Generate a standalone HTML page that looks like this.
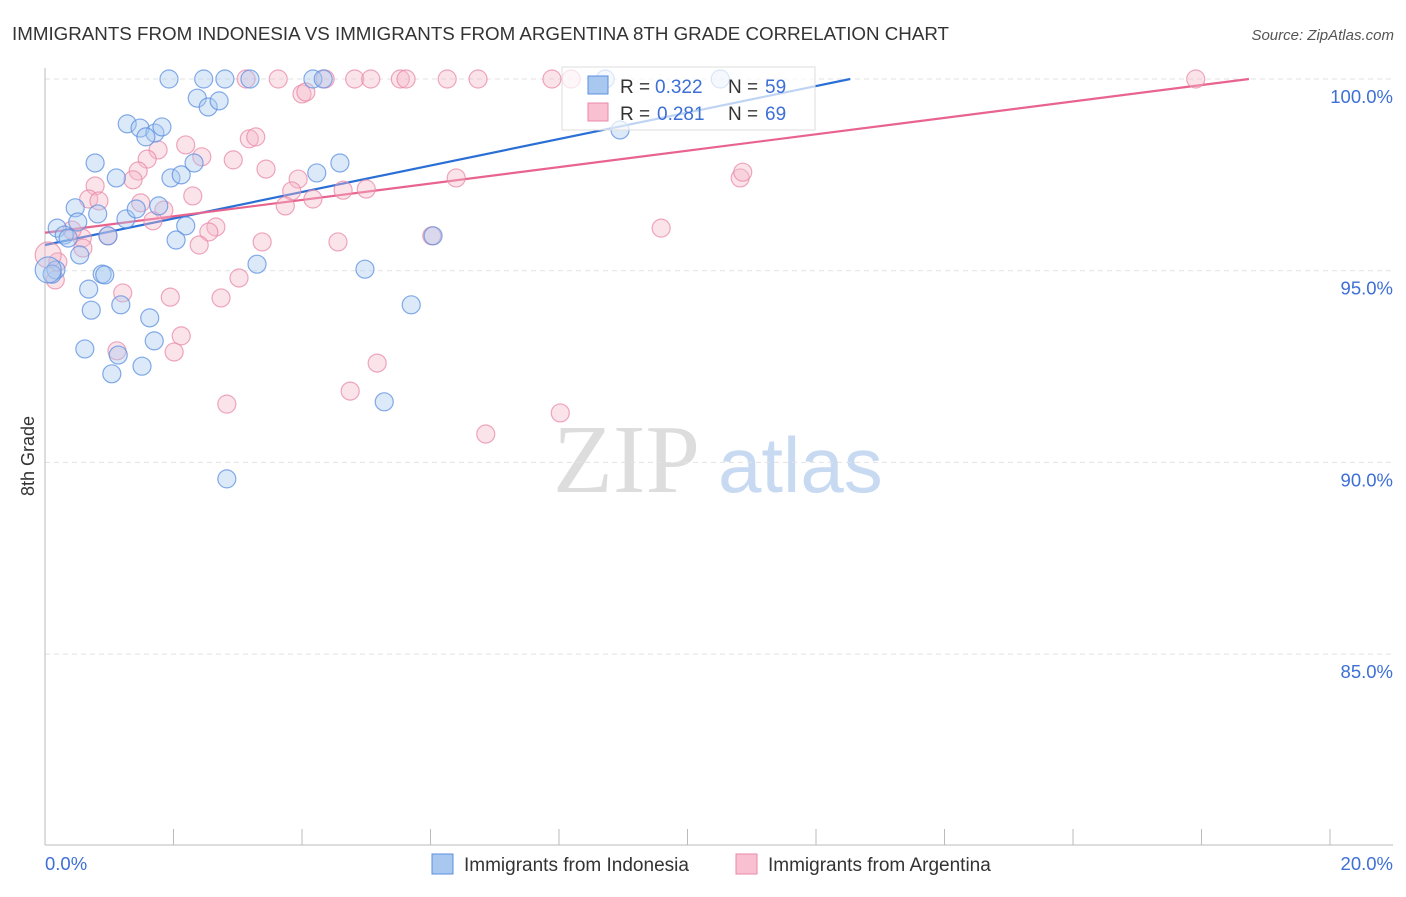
<!DOCTYPE html>
<html><head><meta charset="utf-8"><style>
body{margin:0;background:#fff;font-family:"Liberation Sans",sans-serif}
svg text{font-family:"Liberation Sans",sans-serif}
</style></head><body>
<svg id="chart" width="1406" height="892">
<text x="12" y="40" font-size="18" fill="#333" textLength="937" lengthAdjust="spacingAndGlyphs">IMMIGRANTS FROM INDONESIA VS IMMIGRANTS FROM ARGENTINA 8TH GRADE CORRELATION CHART</text>
<text x="1394" y="40" font-size="15" fill="#555" font-style="italic" text-anchor="end">Source: ZipAtlas.com</text>
<g>
<text x="553" y="492" font-size="98" fill="#ddd" style="font-family:'Liberation Serif',serif">ZIP</text>
<text x="718" y="492" font-size="78" fill="#c8daf2">atlas</text>
</g>
<g id="grid"></g>
<g id="axes"></g>
<g id="trend"></g>
<g id="points"></g>
<text transform="translate(34,456) rotate(-90)" font-size="18" fill="#333" text-anchor="middle">8th Grade</text>
<g>
<rect x="562" y="67" width="253" height="63" fill="#fff" fill-opacity="0.7" stroke="#ddd"/>
<rect x="588" y="76" width="20" height="18" fill="#a8c8f0" stroke="#5b8fe0"/>
<text x="620" y="93" font-size="19" fill="#333">R =</text>
<text x="655" y="93" font-size="19" fill="#3d6fd6">0.322</text>
<text x="728" y="93" font-size="19" fill="#333">N =</text>
<text x="765" y="93" font-size="19" fill="#3d6fd6">59</text>
<rect x="588" y="103" width="20" height="18" fill="#f8c0d0" stroke="#e88aa8"/>
<text x="620" y="120" font-size="19" fill="#333">R =</text>
<text x="657" y="120" font-size="19" fill="#3d6fd6">0.281</text>
<text x="728" y="120" font-size="19" fill="#333">N =</text>
<text x="765" y="120" font-size="19" fill="#3d6fd6">69</text>
</g>
<g>
<rect x="432" y="854" width="21" height="20" fill="#a8c8f0" stroke="#5b8fe0"/>
<text x="464" y="871" font-size="19" fill="#333">Immigrants from Indonesia</text>
<rect x="736" y="854" width="21" height="20" fill="#f8c0d0" stroke="#e88aa8"/>
<text x="768" y="871" font-size="19" fill="#333">Immigrants from Argentina</text>
</g>
</svg>
<script>
const yTicks=[100,95,90,85];
const xTickValues=[0,2,4,6,8,10,12,14,16,18,20];
const xLabels=["0.0%","20.0%"];
const blueX=[1.93,2.47,2.80,3.19,4.17,4.33,10.51,8.72,2.37,2.54,2.71,1.28,1.48,1.71,1.57,1.82,0.78,1.11,1.96,2.12,2.32,4.23,4.59,0.47,0.82,1.26,1.42,1.77,2.19,2.04,0.98,0.51,0.19,0.30,0.36,6.04,0.54,0.17,0.11,0.89,0.93,3.30,4.98,0.68,0.72,1.18,1.63,1.70,0.62,1.14,1.04,1.51,5.70,5.28,2.83,8.95,0.05];
const blueY=[100,100,100,100,100,100,100,100,99.50,99.27,99.43,98.83,98.72,98.59,98.49,98.75,97.81,97.42,97.42,97.50,97.81,97.55,97.81,96.64,96.48,96.35,96.61,96.69,96.17,95.80,95.91,96.27,96.11,95.93,95.85,95.91,95.41,95.02,94.91,94.91,94.89,95.17,95.04,94.52,93.97,94.11,93.77,93.17,92.96,92.80,92.31,92.51,94.11,91.58,89.57,98.67,95.02];
const pinkX=[3.13,3.63,4.36,4.82,5.07,5.53,5.62,6.26,6.74,7.89,8.19,17.91,4.00,4.06,3.18,3.28,2.19,1.76,2.44,1.59,2.93,3.44,1.45,1.37,0.78,0.68,0.84,1.49,1.85,2.30,3.94,3.84,3.74,4.17,4.64,5.00,6.40,10.82,10.86,1.68,2.66,2.55,2.40,3.38,4.56,6.02,9.59,0.98,0.58,0.42,0.59,0.20,0.16,0.05,1.21,1.95,2.74,3.02,2.12,2.01,1.12,5.17,4.75,2.83,8.02,6.86];
const pinkY=[100,100,100,100,100,100,100,100,100,100,100,100,99.61,99.66,98.44,98.49,98.28,98.15,97.97,97.91,97.89,97.65,97.60,97.37,97.21,96.87,96.82,96.77,96.58,96.95,97.39,97.08,96.69,96.87,97.10,97.13,97.42,97.42,97.57,96.30,96.14,96.01,95.67,95.75,95.75,95.91,96.11,95.91,95.85,96.06,95.59,95.23,94.76,95.41,94.42,94.31,94.29,94.81,93.30,92.88,92.91,92.59,91.86,91.52,91.29,90.74];
const blueTrend=[95.67,102.58];
const pinkTrend=[95.99,100.27];
const NS="http://www.w3.org/2000/svg";
const X=v=>45+v/20*1285;
const Y=v=>79+(100-v)/5*191.7;
function mk(tag,attrs,parent){const e=document.createElementNS(NS,tag);for(const k in attrs)e.setAttribute(k,attrs[k]);parent.appendChild(e);return e;}
const grid=document.getElementById('grid'),axes=document.getElementById('axes');
yTicks.forEach(t=>{
 const l=mk('line',{x1:45,x2:1393,y1:Y(t),y2:Y(t),stroke:'#e2e2e2','stroke-dasharray':'5,4'},grid);
 
 
 const tx=mk('text',{x:1393,y:Y(t)+24,'font-size':18.5,fill:'#3d6fd6','text-anchor':'end'},axes);
 tx.textContent=t.toFixed(1)+'%';
 
 
});
const ya=mk('line',{x1:45,x2:45,y1:68,y2:845,stroke:'#bbb'},axes);


const xa=mk('line',{x1:45,x2:1393,y1:845,y2:845,stroke:'#bbb'},axes);


xTickValues.forEach(v=>{
 const t=mk('line',{x1:X(v),x2:X(v),y1:829,y2:845,stroke:'#bbb'},axes);
 
 
});
const l0=mk('text',{x:45,y:870,'font-size':18.5,fill:'#3d6fd6'},axes);l0.textContent=xLabels[0];


const l1=mk('text',{x:1393,y:870,'font-size':18.5,fill:'#3d6fd6','text-anchor':'end'},axes);l1.textContent=xLabels[1];


const pts=document.getElementById('points');
function drawSeries(xs,ys,fill,stroke,name){
 xs.forEach((x,i)=>{
  const big=(x<0.1);
  const c=mk('circle',{cx:X(x),cy:Y(ys[i]),r:big?13:9,fill:fill,'fill-opacity':0.4,stroke:stroke,'stroke-opacity':0.75,'stroke-width':1.2},pts);
  
  
 });
}
drawSeries(pinkX,pinkY,'#f6b8cb','#e88aa8','point-argentina');
drawSeries(blueX,blueY,'#a8c8f0','#5b8fe0','point-indonesia');
const tr=document.getElementById('trend');
function trend(t,color,name){
 let x2=20,y2=t[1];
 if(t[1]>100){x2=20*(100-t[0])/(t[1]-t[0]);y2=100;}
 const l=mk('line',{x1:X(0),y1:Y(t[0]),x2:X(x2),y2:Y(y2),stroke:color,'stroke-width':2.2},tr);
 
 
}
trend(blueTrend,'#2a6fd6','trend-line-indonesia');
trend(pinkTrend,'#e8638e','trend-line-argentina');
</script>
</body></html>
